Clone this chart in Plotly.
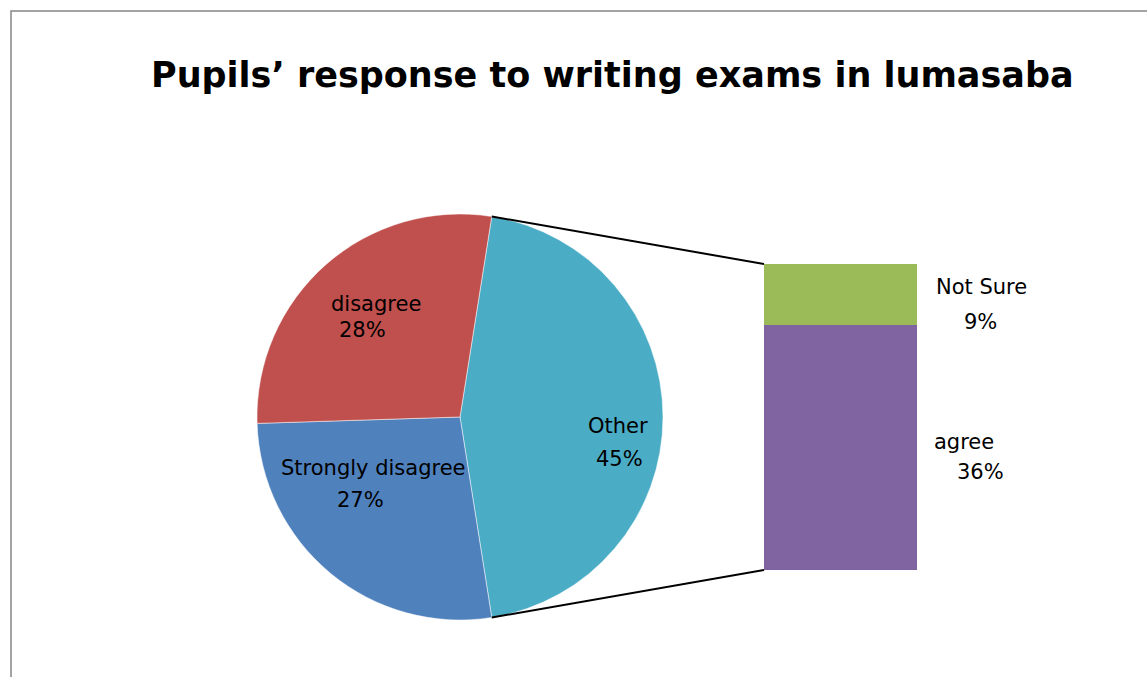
import math
import plotly.graph_objects as go

# Pie data (the "Other" slice is broken out into the stacked bar)
pie_labels = ["Other", "Strongly disagree", "disagree"]
pie_values = [45, 27, 28]
pie_colors = ["#4BACC6", "#4F81BD", "#C0504D"]

# Breakdown of "Other"
bar_labels = ["agree", "Not Sure"]
bar_values = [36, 9]
bar_colors = ["#8064A2", "#9BBB59"]

title_text = "Pupils’ response to writing exams in lumasaba"

W, H = 1147, 677
FONT = "DejaVu Sans"


def px(x):
    return x / W


def py(y):
    return 1 - y / H


# Pie geometry (pixels)
cx, cy, r = 460, 417, 203
total = sum(pie_values)
# centre the "Other" slice on 3 o'clock
rotation = (180 - 360 * pie_values[0] / total) / 2

# Bar box (pixels)
bx0, bx1, by_top, by_bot = 764, 917, 264, 570

fig = go.Figure()

fig.add_trace(go.Pie(
    labels=pie_labels,
    values=pie_values,
    marker=dict(colors=pie_colors, line=dict(color="white", width=0.5)),
    sort=False,
    direction="clockwise",
    rotation=rotation,
    textinfo="none",
    hoverinfo="label+percent",
    domain=dict(x=[px(cx - r), px(cx + r)], y=[py(cy + r), py(cy - r)]),
    showlegend=False,
))

for lab, val, col in zip(bar_labels, bar_values, bar_colors):
    fig.add_trace(go.Bar(
        x=[0], y=[val], name=lab, width=1,
        marker=dict(color=col, line=dict(width=0)),
        showlegend=False, xaxis="x", yaxis="y",
    ))

# Connector lines from the edges of the "Other" slice to the bar corners
a_start = math.radians(rotation)
a_end = math.radians(rotation + 360 * pie_values[0] / total)
p1 = (cx + r * math.sin(a_start), cy - r * math.cos(a_start))
p2 = (cx + r * math.sin(a_end), cy - r * math.cos(a_end))
shapes = [
    dict(type="line", xref="paper", yref="paper",
         x0=px(p1[0]), y0=py(p1[1]), x1=px(bx0), y1=py(by_top),
         line=dict(color="black", width=2)),
    dict(type="line", xref="paper", yref="paper",
         x0=px(p2[0]), y0=py(p2[1]), x1=px(bx0), y1=py(by_bot),
         line=dict(color="black", width=2)),
    # chart frame
    dict(type="rect", xref="paper", yref="paper",
         x0=px(11), y0=-0.05, x1=1.05, y1=py(11),
         line=dict(color="#868686", width=1.5), layer="below"),
]


def pct(v):
    return f"{round(100 * v / total)}%"


def label(x, y, text, anchor="center"):
    return dict(x=px(x), y=py(y), xref="paper", yref="paper", text=text,
                showarrow=False, xanchor=anchor, yanchor="middle",
                font=dict(family=FONT, size=21, color="black"))


annotations = [
    label(376, 304, pie_labels[2]), label(362, 330, pct(pie_values[2])),
    label(373, 468, pie_labels[1]), label(360, 500, pct(pie_values[1])),
    label(618, 426, pie_labels[0]), label(619, 459, pct(pie_values[0])),
    label(934, 287, bar_labels[1], "left"), label(980, 322, pct(bar_values[1])),
    label(932, 442, bar_labels[0], "left"), label(980, 472, pct(bar_values[0])),
    dict(x=px(612), y=py(75), xref="paper", yref="paper", text=f"<b>{title_text}</b>",
         showarrow=False, xanchor="center", yanchor="middle",
         font=dict(family=FONT, size=35, color="black")),
]

fig.update_layout(
    width=W, height=H,
    margin=dict(l=0, r=0, t=0, b=0),
    paper_bgcolor="white", plot_bgcolor="rgba(0,0,0,0)",
    barmode="stack", bargap=0,
    xaxis=dict(domain=[px(bx0), px(bx1)], range=[-0.5, 0.5], visible=False, fixedrange=True),
    yaxis=dict(domain=[py(by_bot), py(by_top)], range=[0, sum(bar_values)], visible=False, fixedrange=True),
    shapes=shapes,
    annotations=annotations,
)

fig.write_html("out.html")
